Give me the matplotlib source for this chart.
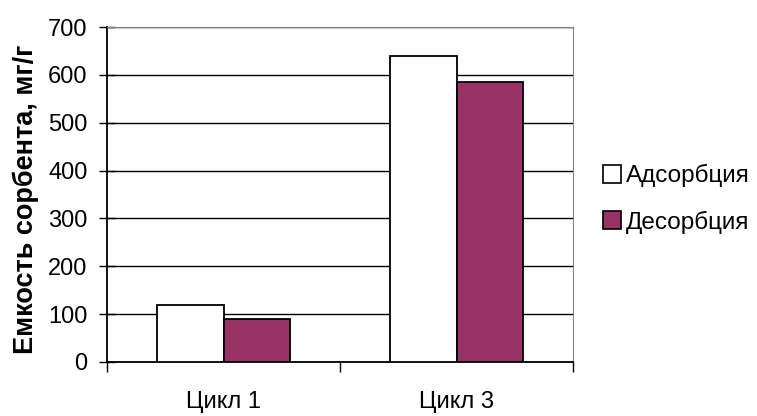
import matplotlib
matplotlib.use("Agg")
import matplotlib.pyplot as plt
import numpy as np
from matplotlib.patches import Patch

plt.rcParams["font.family"] = ["Liberation Sans", "DejaVu Sans"]

# sorbent capacity per cycle, mg/g
cycles = ["Цикл 1", "Цикл 3"]
adsorption = [120, 640]
desorption = [90, 585]

series_names = ["Адсорбция", "Десорбция"]
fill_colors = ["white", "#993366"]

fig = plt.figure(figsize=(7.57, 4.16), dpi=100)
ax = fig.add_axes([107 / 757, 1 - 362 / 416, 466 / 757, 335 / 416])

x = np.arange(len(cycles))
w = 1 / 3.5  # gap width 150% of a bar
ax.bar(x - w / 2, adsorption, w, color=fill_colors[0], edgecolor="black", linewidth=1.3, zorder=3)
ax.bar(x + w / 2, desorption, w, color=fill_colors[1], edgecolor="black", linewidth=1.3, zorder=3)

ax.set_xlim(-0.5, len(cycles) - 0.5)
ax.set_ylim(0, 700)
ax.set_yticks(np.arange(0, 701, 100))
ax.yaxis.grid(True, color="black", linewidth=1.0, zorder=0)
ax.set_axisbelow(True)

# category ticks sit between the groups, labels centred under each group
ax.set_xticks(np.arange(-0.5, len(cycles)), minor=False)
ax.set_xticklabels([])
ax.set_xticks(x, minor=True)
ax.set_xticklabels(cycles, minor=True)
ax.tick_params(axis="x", which="major", direction="out", length=7, width=1)
ax.tick_params(axis="x", which="minor", length=0, pad=21, labelsize=17)
ax.tick_params(axis="y", direction="inout", length=12, width=1, labelsize=17, pad=8)

for side in ["top", "right"]:
    ax.spines[side].set_color("#808080")
for side in ["left", "bottom"]:
    ax.spines[side].set_color("black")
    ax.spines[side].set_linewidth(1.3)

ax.set_ylabel("Емкость сорбента, мг/г", fontsize=19.5, fontweight="bold")
ax.yaxis.set_label_coords(-0.145, 0.485)

handles = [Patch(facecolor=c, edgecolor="black", linewidth=1.2) for c in fill_colors]
fig.legend(handles, series_names, loc="center left", bbox_to_anchor=(581 / 757, 1 - 199 / 416),
           frameon=False, fontsize=17.5, handlelength=0.75, handleheight=0.75,
           handletextpad=0.2, labelspacing=0.95)

fig.savefig("out.png", dpi=100)
